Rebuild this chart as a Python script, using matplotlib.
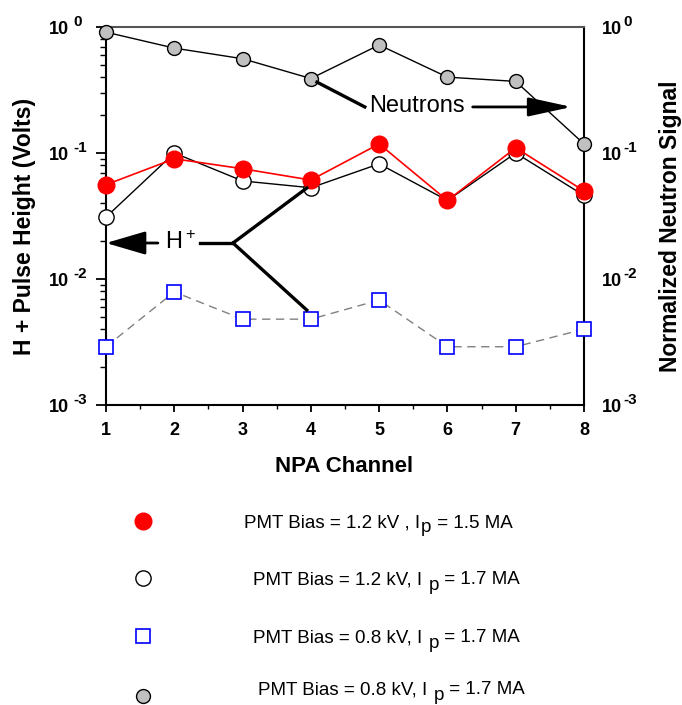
import matplotlib
matplotlib.use("Agg")
import matplotlib.pyplot as plt
from matplotlib.lines import Line2D
from matplotlib.ticker import FixedLocator, LogLocator, NullFormatter

plt.rcParams['font.family'] = ['Liberation Sans', 'DejaVu Sans']
plt.rcParams['mathtext.fontset'] = 'custom'
plt.rcParams['mathtext.rm'] = 'Liberation Sans'
plt.rcParams['mathtext.bf'] = 'Liberation Sans:bold'
plt.rcParams['mathtext.it'] = 'Liberation Sans:italic'

# NPA channels
channels = [1, 2, 3, 4, 5, 6, 7, 8]

# H+ pulse height (Volts)
red_12kv_15ma = [0.056, 0.090, 0.075, 0.061, 0.118, 0.042, 0.110, 0.050]
open_12kv_17ma = [0.031, 0.100, 0.060, 0.053, 0.082, 0.042, 0.100, 0.046]
blue_08kv_17ma = [0.0029, 0.0079, 0.0048, 0.0048, 0.0068, 0.0029, 0.0029, 0.0040]

# normalized neutron signal
gray_08kv_17ma = [0.91, 0.68, 0.56, 0.39, 0.72, 0.40, 0.37, 0.118]

# legend text pieces: before subscript, subscript, after
legend_parts = [
    ("PMT Bias = 1.2 kV , I", "p", " = 1.5 MA"),
    ("PMT Bias = 1.2 kV, I ", "p", " = 1.7 MA"),
    ("PMT Bias = 0.8 kV, I ", "p", " = 1.7 MA"),
    ("PMT Bias = 0.8 kV, I ", "p", " = 1.7 MA"),
]

decades = [1e-3, 1e-2, 1e-1, 1e0]
exponents = ["-3", "-2", "-1", "0"]

W, H = 682, 705
fig = plt.figure(figsize=(W / 100, H / 100), dpi=100)
ax = fig.add_axes([106 / W, 1 - 405 / H, 478 / W, 378 / H])

ax.plot(channels, gray_08kv_17ma, color='black', lw=1, marker='o', ms=10,
        mfc='#c0c0c0', mec='black', mew=1, zorder=3, clip_on=False)
ax.plot(channels, blue_08kv_17ma, color='gray', lw=1, ls=(0, (6, 4)), marker='s',
        ms=10, mfc='white', mec='blue', mew=1.2, zorder=3, clip_on=False)
ax.plot(channels, open_12kv_17ma, color='black', lw=1, marker='o', ms=11,
        mfc='white', mec='black', mew=1, zorder=4, clip_on=False)
ax.plot(channels, red_12kv_15ma, color='red', lw=1.2, marker='o', ms=12,
        mfc='red', mec='red', zorder=5, clip_on=False)

ax.set_yscale('log')
ax.set_ylim(1e-3, 1e0)
ax.set_xlim(1, 8)
ax.yaxis.set_major_locator(FixedLocator(decades))
ax.yaxis.set_major_formatter(NullFormatter())
ax.yaxis.set_minor_locator(LogLocator(base=10, subs=range(2, 10)))
ax.yaxis.set_minor_formatter(NullFormatter())
ax.set_xticks(channels)
ax.set_xticks([1.5, 2.5, 3.5, 4.5, 5.5, 6.5, 7.5], minor=True)
ax.tick_params(axis='y', which='major', direction='out', length=7, width=1.3)
ax.tick_params(axis='y', which='minor', direction='out', length=4, width=1)
ax.tick_params(axis='x', which='major', direction='out', length=5, width=1.3,
               labelsize=13, pad=7)
ax.tick_params(axis='x', which='minor', direction='out', length=3, width=1)
for lab in ax.get_xticklabels():
    lab.set_fontweight('bold')
for s in ['left', 'bottom', 'right']:
    ax.spines[s].set_linewidth(1.5)
ax.spines['top'].set_color('#555555')
ax.spines['top'].set_linewidth(1.5)

# decade labels "10" with raised exponent, both sides
for v, e in zip(decades, exponents):
    kw = dict(xycoords=('figure pixels', 'data'), textcoords='offset pixels',
              fontweight='bold', va='center', annotation_clip=False)
    ax.annotate("10", xy=(69, v), xytext=(0, -2), ha='right', fontsize=13, **kw)
    ax.annotate(e, xy=(73, v), xytext=(0, 5), ha='left', fontsize=11, **kw)
    ax.annotate("10", xy=(602, v), xytext=(0, -2), ha='left', fontsize=13, **kw)
    ax.annotate(e, xy=(623, v), xytext=(0, 5), ha='left', fontsize=11, **kw)

fig.text(344 / W, 1 - 466 / H, "NPA Channel", fontsize=16, fontweight='bold',
         ha='center', va='center')
fig.text(25 / W, 1 - 226 / H, "H + Pulse Height (Volts)", fontsize=16.5,
         fontweight='bold', rotation=90, ha='center', va='center')
fig.text(670 / W, 1 - 226 / H, "Normalized Neutron Signal", fontsize=16.5,
         fontweight='bold', rotation=90, ha='center', va='center')

# annotations
ax.text(4.85, 0.235, "Neutrons", fontsize=17, ha='left', va='center', zorder=6)
ax.plot([4.09, 4.79], [0.365, 0.232], color='black', lw=2.4, zorder=6)
ax.annotate("", xy=(7.82, 0.232), xytext=(6.37, 0.232),
            arrowprops=dict(arrowstyle='-|>,head_length=2.66,head_width=0.58',
                            color='black', lw=2, shrinkA=0, shrinkB=0), zorder=6)

ax.text(1.86, 0.0193, r"H$^+$", fontsize=17, ha='left', va='center', zorder=6)
ax.annotate("", xy=(1.0, 0.0193), xytext=(1.76, 0.0193),
            arrowprops=dict(arrowstyle='-|>,head_length=2.45,head_width=0.72',
                            color='black', lw=2, shrinkA=0, shrinkB=0), zorder=6)
ax.plot([2.38, 2.86], [0.0193, 0.0193], color='black', lw=2.4, zorder=6)
ax.plot([2.86, 3.94], [0.0193, 0.0527], color='black', lw=2.4, zorder=6)
ax.plot([2.86, 3.94], [0.0193, 0.00567], color='black', lw=2.4, zorder=6)

# legend below the chart
marker_y = [521, 578, 636, 696]
text_x = [244, 253, 253, 258]
text_y = [523, 580, 638, 690]
styles = [
    dict(marker='o', ms=12, mfc='red', mec='red'),
    dict(marker='o', ms=11, mfc='white', mec='black', mew=1),
    dict(marker='s', ms=10, mfc='white', mec='blue', mew=1.2),
    dict(marker='o', ms=10, mfc='#c0c0c0', mec='black', mew=1),
]
for my, st, parts, tx, ty in zip(marker_y, styles, legend_parts, text_x, text_y):
    fig.add_artist(Line2D([143 / W], [1 - my / H], ls='none',
                          transform=fig.transFigure, **st))
    t1 = fig.text(tx / W, 1 - ty / H, parts[0], fontsize=13.5, ha='left',
                  va='center')
    t2 = ax.annotate(parts[1], xy=(1, 0), xycoords=t1, xytext=(1, -5),
                     textcoords='offset pixels', fontsize=13.5, ha='left',
                     va='bottom', annotation_clip=False)
    ax.annotate(parts[2], xy=(1, 0), xycoords=t2, xytext=(0, 5),
                textcoords='offset pixels', fontsize=13.5, ha='left',
                va='bottom', annotation_clip=False)

fig.savefig("out.png", dpi=100)
